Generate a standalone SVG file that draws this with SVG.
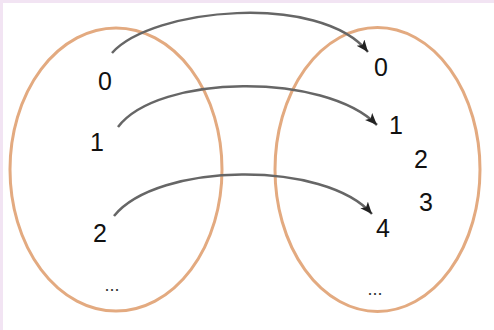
<svg xmlns="http://www.w3.org/2000/svg" width="494" height="330" viewBox="0 0 494 330">
<defs>
<style>
.set{fill:none;stroke:#e3aa80;stroke-width:3}
.arr{fill:none;stroke:#666;stroke-width:2.5;marker-end:url(#ah)}
.lbl{font-family:"Liberation Sans",Arial,sans-serif;font-size:25px;fill:#111;text-anchor:middle}
.dots{font-family:"Liberation Sans",Arial,sans-serif;font-size:18px;fill:#333;text-anchor:middle}
</style>
<marker id="ah" markerUnits="userSpaceOnUse" markerWidth="14" markerHeight="12" refX="12" refY="5" orient="auto">
<path d="M0,0 L12,5 L0,10 L3,5 Z" fill="#222"/>
</marker>
</defs>
<rect x="0" y="0" width="494" height="330" fill="#f2e4f3"/>
<rect x="3" y="3" width="491" height="327" fill="#fff"/>
<g id="setA">
<ellipse class="set" cx="116" cy="169.5" rx="106" ry="141.5"/>
<text class="lbl" x="105" y="90">0</text>
<text class="lbl" x="97" y="151">1</text>
<text class="lbl" x="100" y="242">2</text>
<text class="dots" x="112" y="291">...</text>
</g>
<g id="setB">
<ellipse class="set" cx="377.5" cy="169.5" rx="102.5" ry="142"/>
<text class="lbl" x="381" y="76">0</text>
<text class="lbl" x="396" y="134">1</text>
<text class="lbl" x="421" y="168">2</text>
<text class="lbl" x="426" y="211">3</text>
<text class="lbl" x="383" y="237">4</text>
<text class="dots" x="375" y="295">...</text>
</g>
<g id="connectors">
<path class="arr" d="M112,53 C152,8 320,-8 368,52"/>
<path class="arr" d="M118,127 C158,74 325,72 377,125"/>
<path class="arr" d="M114,216 C158,162 325,160 372,214"/>
</g>
</svg>
